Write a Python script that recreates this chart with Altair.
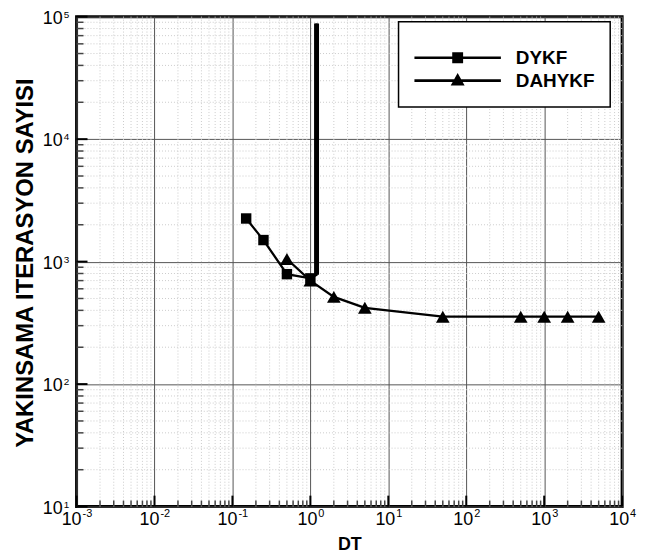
import altair as alt
import pandas as pd

# ---- data ----
dykf_dt = [0.15, 0.25, 0.5, 1.0]
dykf_iter = [2250, 1500, 790, 730]
dykf_tail_dt = [1.0, 1.2, 1.2]
dykf_tail_iter = [730, 780, 88000]
dahykf_dt = [0.5, 1.0, 2.0, 5.0, 50.0, 500.0, 1000.0, 2000.0, 5000.0]
dahykf_iter = [1050, 700, 515, 420, 355, 355, 355, 355, 355]
series_names = ["DYKF", "DAHYKF"]

# ---- tick values and labels ----
x_major = [1e-3, 1e-2, 1e-1, 1e0, 1e1, 1e2, 1e3, 1e4]
x_exp = ["-3", "-2", "-1", "0", "1", "2", "3", "4"]
y_major = [1e1, 1e2, 1e3, 1e4, 1e5]
y_exp = ["1", "2", "3", "4", "5"]
mantissas = [2, 3, 4, 5, 6, 7, 8, 9]
x_minor = [m * d for d in x_major[:-1] for m in mantissas]
y_minor = [m * d for d in y_major[:-1] for m in mantissas]

W, H = 549, 493
F = "Liberation Sans"

xs = alt.Scale(type="log", domain=[1e-3, 1e4], nice=False)
ys = alt.Scale(type="log", domain=[1e1, 1e5], nice=False)

xaxis = alt.Axis(values=x_major, grid=True, gridColor="#555555", gridWidth=1,
                 labels=False, ticks=False, domain=False,
                 title="DT", titleFont=F, titleFontSize=18, titleFontWeight="bold",
                 titleColor="black", titleY=43, titleBaseline="alphabetic")
yaxis = alt.Axis(values=y_major, grid=True, gridColor="#555555", gridWidth=1,
                 labels=False, ticks=False, domain=False,
                 title="YAKINSAMA ITERASYON SAYISI", titleFont=F, titleFontSize=24,
                 titleFontWeight="bold", titleColor="black", titleAngle=270,
                 titleX=-44, titleY=H / 2 + 1, titleAlign="center",
                 titleBaseline="alphabetic")

X = alt.X("dt:Q", scale=xs, axis=xaxis)
Y = alt.Y("iter:Q", scale=ys, axis=yaxis)

df_xminor = pd.DataFrame({"dt": x_minor})
df_yminor = pd.DataFrame({"iter": y_minor})
df_xmajor = pd.DataFrame({"dt": x_major, "exp": x_exp})
df_ymajor = pd.DataFrame({"iter": y_major, "exp": y_exp})
df_dykf = pd.DataFrame({"dt": dykf_dt, "iter": dykf_iter})
df_dykf_line = pd.DataFrame({"dt": dykf_dt + dykf_tail_dt[1:], "iter": dykf_iter + dykf_tail_iter[1:],
                             "idx": list(range(len(dykf_dt) + len(dykf_tail_dt) - 1))})
df_tail = pd.DataFrame({"dt": dykf_tail_dt[1:], "iter": dykf_tail_iter[1:]})
df_dahykf = pd.DataFrame({"dt": dahykf_dt, "iter": dahykf_iter})
df_leg = pd.DataFrame({"dt": [1.0, 1.0], "iter": [100, 100], "series": series_names})

minor_grid_x = alt.Chart(df_xminor).mark_rule(color="#cccccc", strokeWidth=1, strokeDash=[1, 2]).encode(x=X)
minor_grid_y = alt.Chart(df_yminor).mark_rule(color="#cccccc", strokeWidth=1, strokeDash=[1, 2]).encode(y=Y)

major_ticks_x = alt.Chart(df_xmajor).mark_rule(color="black", strokeWidth=2).encode(
    x=X, y=alt.value(H), y2=alt.value(H - 11))
minor_ticks_x = alt.Chart(df_xminor).mark_rule(color="#444444", strokeWidth=1.5).encode(
    x=X, y=alt.value(H), y2=alt.value(H - 6))
major_ticks_y = alt.Chart(df_ymajor).mark_rule(color="black", strokeWidth=2).encode(
    y=Y, x=alt.value(0), x2=alt.value(11))
minor_ticks_y = alt.Chart(df_yminor).mark_rule(color="#444444", strokeWidth=1.5).encode(
    y=Y, x=alt.value(0), x2=alt.value(7))

# tick labels: "10" with superscript exponent
neg = df_xmajor[df_xmajor["exp"].str.startswith("-")]
pos = df_xmajor[~df_xmajor["exp"].str.startswith("-")]
xl_neg10 = alt.Chart(neg).mark_text(text="10", align="right", baseline="alphabetic", dx=5,
                                    font=F, fontSize=18, color="black").encode(x=X, y=alt.value(H + 19))
xl_negexp = alt.Chart(neg).mark_text(align="left", baseline="alphabetic", dx=6,
                                     font=F, fontSize=11, color="black").encode(x=X, y=alt.value(H + 10), text="exp:N")
xl_pos10 = alt.Chart(pos).mark_text(text="10", align="right", baseline="alphabetic", dx=7,
                                    font=F, fontSize=18, color="black").encode(x=X, y=alt.value(H + 19))
xl_posexp = alt.Chart(pos).mark_text(align="left", baseline="alphabetic", dx=8,
                                     font=F, fontSize=11, color="black").encode(x=X, y=alt.value(H + 10), text="exp:N")
yl_10 = alt.Chart(df_ymajor).mark_text(text="10", align="right", baseline="alphabetic", dx=-14, dy=7,
                                       font=F, fontSize=18, color="black").encode(y=Y, x=alt.value(0))
yl_exp = alt.Chart(df_ymajor).mark_text(align="left", baseline="alphabetic", dx=-13, dy=1,
                                        font=F, fontSize=10, color="black").encode(y=Y, x=alt.value(0), text="exp:N")

# data series
line_dykf = alt.Chart(df_dykf_line).mark_line(color="black", strokeWidth=2.3).encode(
    x=X, y=Y, order=alt.Order("idx:Q"))
line_tail = alt.Chart(df_tail).mark_line(color="black", strokeWidth=5, strokeCap="butt").encode(x=X, y=Y)
pts_dykf = alt.Chart(df_dykf).mark_point(shape="square", filled=True, color="black", size=110, opacity=1).encode(x=X, y=Y)
line_dahykf = alt.Chart(df_dahykf).mark_line(color="black", strokeWidth=2.3).encode(x=X, y=Y)
pts_dahykf = alt.Chart(df_dahykf).mark_point(shape="triangle-up", filled=True, color="black", size=190, opacity=1).encode(x=X, y=Y)

# legend symbols: a filled thin bar (the line) plus the marker, in unit coordinates
sq_path = "M-1,-0.03H1V0.03H-1ZM-0.126,-0.126H0.126V0.126H-0.126Z"
tri_path = "M-1,-0.03H1V0.03H-1ZM0,-0.177L0.161,0.115L-0.161,0.115Z"

legend_layer = alt.Chart(df_leg).transform_filter("false").mark_point(
    filled=True, color="black", opacity=1
).encode(
    x=X, y=Y,
    shape=alt.Shape("series:N", scale=alt.Scale(domain=series_names, range=[sq_path, tri_path]),
                    legend=alt.Legend(orient="none", legendX=324, legendY=5,
                                      title="\u00a0", titleFontSize=10, titlePadding=0,
                                      padding=15, symbolSize=7569, symbolOffset=0, labelOffset=14,
                                      clipHeight=22.7, rowPadding=0,
                                      labelFont=F, labelFontSize=19, labelFontWeight="bold",
                                      labelColor="black", strokeColor="black", fillColor="white",
                                      labelExpr="datum.label + '\u00a0\u00a0'",
                                      symbolFillColor="black", symbolOpacity=1)),
)

chart = alt.layer(
    minor_grid_x, minor_grid_y,
    line_dykf, line_tail, line_dahykf, pts_dykf, pts_dahykf,
    minor_ticks_x, major_ticks_x, minor_ticks_y, major_ticks_y,
    xl_neg10, xl_negexp, xl_pos10, xl_posexp, yl_10, yl_exp,
    legend_layer,
).properties(
    width=W, height=H,
    autosize=alt.AutoSizeParams(type="none"),
    padding={"left": 69, "top": 7, "right": 20, "bottom": 47},
).configure_view(
    stroke="black", strokeWidth=3
).configure_legend(strokeWidth=1.5)

chart.save("out.html", embed_options={"renderer": "svg", "actions": False})
